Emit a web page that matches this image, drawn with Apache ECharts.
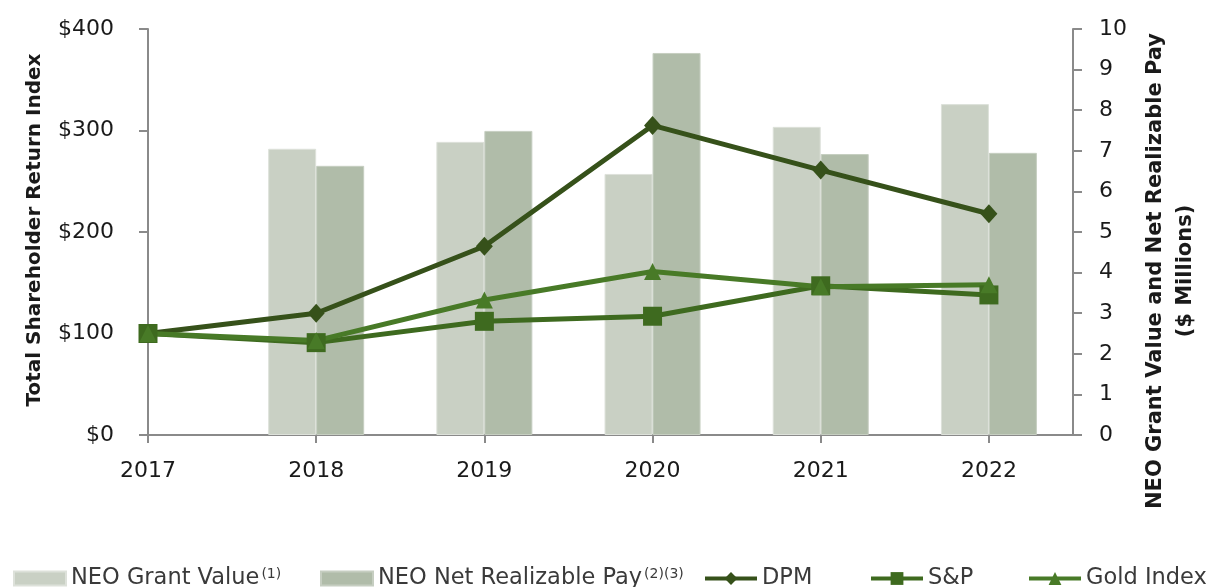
<!DOCTYPE html>
<html>
<head>
<meta charset="utf-8">
<script src="https://cdn.jsdelivr.net/npm/echarts@6/dist/echarts.min.js"></script>
<style>
  html, body { margin: 0; padding: 0; background: #fff; }
  #chart { width: 1212px; height: 587px; }
</style>
</head>
<body>
<div id="chart"></div>
<script>
// Years shown on the horizontal axis
const years = [2017, 2018, 2019, 2020, 2021, 2022];

// NEO pay, $ millions (right axis)
const grantValue = [null, 7.05, 7.22, 6.43, 7.59, 8.15];
const netRealizablePay = [null, 6.63, 7.49, 9.41, 6.92, 6.95];

// Total shareholder return index, 2017 = $100 (left axis)
const dpm = [100, 120, 186, 305, 261, 218];
const sp = [100, 91, 112, 117, 147, 138];
const goldIndex = [100, 93, 133, 161, 146, 148];

// Axis tick labels
const leftTicks = [0, 100, 200, 300, 400];
const rightTicks = [0, 1, 2, 3, 4, 5, 6, 7, 8, 9, 10];

const FONT = 'DejaVu Sans';
const AXIS_GRAY = '#8a8a8a';
const TEXT = '#1a1a1a';
const LEGEND_TEXT = '#3a3a3a';
const COLORS = {
  grant: '#c9d0c4',
  net: '#b0bca9',
  dpm: '#36511a',
  sp: '#3e6a1f',
  gold: '#487a27'
};

const pair = (arr) => years.map((y, i) => [y, arr[i]]);

const legendBase = {
  top: 562,
  itemWidth: 52,
  itemHeight: 14,
  itemGap: 6,
  textStyle: {
    fontFamily: FONT, fontSize: 22.5, color: LEGEND_TEXT,
    rich: {
      n: { fontFamily: FONT, fontSize: 22.5, color: LEGEND_TEXT },
      s: { fontFamily: FONT, fontSize: 14, color: LEGEND_TEXT, verticalAlign: 'top', padding: [0, 0, 0, 2] }
    }
  }
};
const lineLegend = Object.assign({}, legendBase, {
  itemHeight: 16,
  lineStyle: { width: 4 }
});

const chart = echarts.init(document.getElementById('chart'), null, { renderer: 'canvas' });

chart.setOption({
  animation: false,
  backgroundColor: '#ffffff',
  grid: { left: 148, right: 139, top: 29, bottom: 152 },
  xAxis: {
    type: 'value',
    min: years[0],
    max: years[years.length - 1] + 0.5,
    interval: 1,
    splitLine: { show: false },
    axisLine: { lineStyle: { color: AXIS_GRAY, width: 2 } },
    axisTick: { length: 8, lineStyle: { color: AXIS_GRAY, width: 2 }, customValues: years },
    axisLabel: {
      customValues: years,
      margin: 25,
      fontFamily: FONT, fontSize: 22, color: TEXT,
      formatter: (v) => String(v)
    }
  },
  yAxis: [
    {
      type: 'value',
      min: leftTicks[0],
      max: leftTicks[leftTicks.length - 1],
      interval: 100,
      position: 'left',
      splitLine: { show: false },
      axisLine: { show: true, lineStyle: { color: AXIS_GRAY, width: 2 } },
      axisTick: { show: true, length: 9, lineStyle: { color: AXIS_GRAY, width: 2 } },
      axisLabel: { margin: 34, fontFamily: FONT, fontSize: 22, color: TEXT, formatter: (v) => '$' + v }
    },
    {
      type: 'value',
      min: rightTicks[0],
      max: rightTicks[rightTicks.length - 1],
      interval: 1,
      position: 'right',
      splitLine: { show: false },
      axisLine: { show: true, lineStyle: { color: AXIS_GRAY, width: 2 } },
      axisTick: { show: true, length: 9, lineStyle: { color: AXIS_GRAY, width: 2 } },
      axisLabel: { margin: 26, fontFamily: FONT, fontSize: 22, color: TEXT }
    }
  ],
  legend: [
    Object.assign({}, legendBase, { left: 8, icon: 'rect', data: ['NEO Grant Value'],
      formatter: () => '{n|NEO Grant Value}{s|(1)}' }),
    Object.assign({}, legendBase, { left: 315, icon: 'rect', data: ['NEO Net Realizable Pay'],
      formatter: () => '{n|NEO Net Realizable Pay}{s|(2)(3)}' }),
    Object.assign({}, lineLegend, { left: 698, data: ['DPM'] }),
    Object.assign({}, lineLegend, { left: 864, data: ['S&P'] }),
    Object.assign({}, lineLegend, { left: 1022, data: ['Gold Index'] })
  ],
  graphic: [
    {
      type: 'text', x: 35, y: 230, rotation: Math.PI / 2,
      style: {
        text: 'Total Shareholder Return Index',
        font: 'bold 20px "' + FONT + '"', fill: TEXT,
        align: 'center', verticalAlign: 'middle'
      }
    },
    {
      type: 'text', x: 1171, y: 271, rotation: Math.PI / 2,
      style: {
        text: 'NEO Grant Value and Net Realizable Pay\n($ Millions)',
        font: 'bold 21px "' + FONT + '"', fill: TEXT, lineHeight: 30,
        align: 'center', verticalAlign: 'middle'
      }
    }
  ],
  series: [
    {
      name: 'NEO Grant Value', type: 'bar', yAxisIndex: 1,
      barWidth: 48, barGap: '0%',
      itemStyle: { color: COLORS.grant, borderColor: '#dde1da', borderWidth: 1 },
      data: pair(grantValue)
    },
    {
      name: 'NEO Net Realizable Pay', type: 'bar', yAxisIndex: 1,
      barWidth: 48, barGap: '0%',
      itemStyle: { color: COLORS.net, borderColor: '#c6cec1', borderWidth: 1 },
      data: pair(netRealizablePay)
    },
    {
      name: 'DPM', type: 'line', yAxisIndex: 0,
      symbol: 'diamond', symbolSize: [17, 19],
      lineStyle: { color: COLORS.dpm, width: 5 },
      itemStyle: { color: COLORS.dpm },
      data: pair(dpm)
    },
    {
      name: 'S&P', type: 'line', yAxisIndex: 0,
      symbol: 'rect', symbolSize: 19,
      lineStyle: { color: COLORS.sp, width: 5 },
      itemStyle: { color: COLORS.sp },
      data: pair(sp)
    },
    {
      name: 'Gold Index', type: 'line', yAxisIndex: 0,
      symbol: 'triangle', symbolSize: 17,
      lineStyle: { color: COLORS.gold, width: 5 },
      itemStyle: { color: COLORS.gold },
      data: pair(goldIndex)
    }
  ]
});
</script>
</body>
</html>
